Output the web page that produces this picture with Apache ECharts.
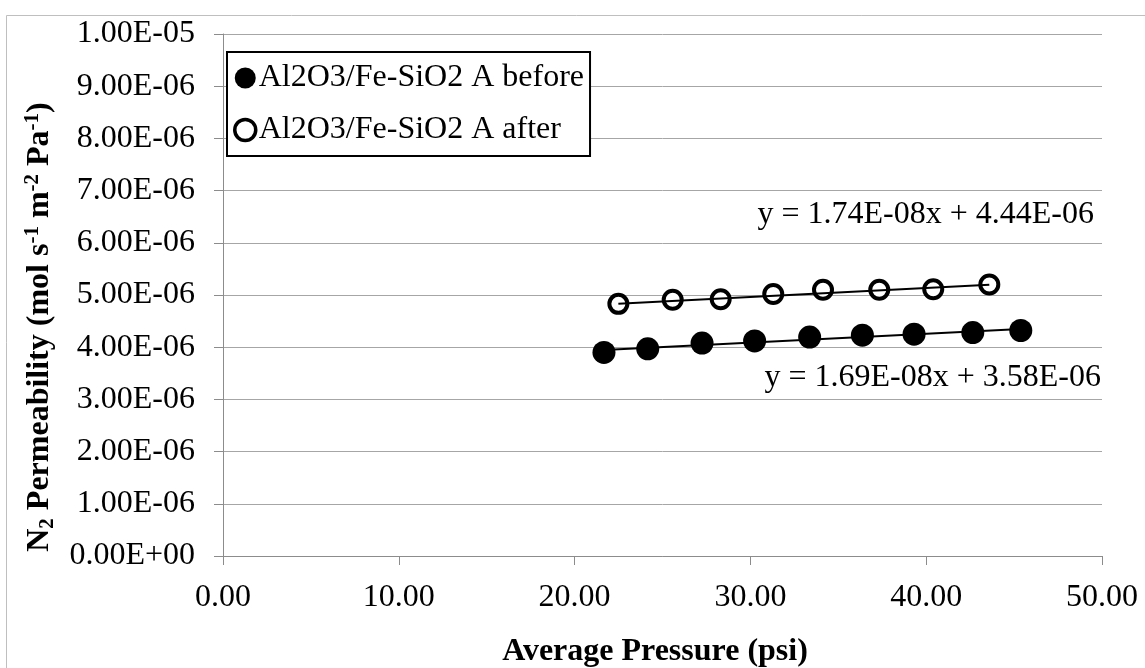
<!DOCTYPE html>
<html>
<head>
<meta charset="utf-8">
<title>N2 Permeability vs Average Pressure</title>
<script src="https://cdn.jsdelivr.net/npm/echarts@6/dist/echarts.min.js"></script>
<style>
  html, body { margin: 0; padding: 0; background: #fff; }
  #chart { width: 1145px; height: 668px; }
</style>
</head>
<body>
<div id="chart"></div>
<script>
// 数据：点
const seriesNames = ['Al2O3/Fe-SiO2 A before', 'Al2O3/Fe-SiO2 A after']
const beforeX = [21.67, 24.16, 27.25, 30.24, 33.37, 36.37, 39.31, 42.65, 45.38]
const beforeY = [3.90e-6, 3.97e-6, 4.08e-6, 4.12e-6, 4.195e-6, 4.23e-6, 4.25e-6, 4.28e-6, 4.32e-6]
const afterX = [22.49, 25.58, 28.31, 31.30, 34.13, 37.33, 40.40, 43.59]
const afterY = [4.83e-6, 4.91e-6, 4.92e-6, 5.02e-6, 5.10e-6, 5.10e-6, 5.11e-6, 5.20e-6]

// 趋势线两端（按图中方程读出）
const beforeTrendX = [21.67, 45.38]
const beforeTrendY = [3.946e-6, 4.347e-6]
const afterTrendX = [22.49, 43.59]
const afterTrendY = [4.831e-6, 5.198e-6]
const equations = ['y = 1.69E-08x + 3.58E-06', 'y = 1.74E-08x + 4.44E-06']

const xTicks = { min: 0, max: 50, interval: 10 }
const yTicks = { min: 0, max: 1e-5, interval: 1e-6 }

const FONT = '"Liberation Serif", "Times New Roman", serif'
const FS = 32
const GRID_GREY = '#a6a6a6'
const AXIS_GREY = '#8c8c8c'

const zip = (xs, ys) => xs.map((x, i) => [x, ys[i]])

// 1.00E-05 这种 Excel 风格
function sciLabel(v) {
  if (Math.abs(v) < 1e-12) return '0.00E+00'
  const [m, e] = v.toExponential(2).toUpperCase().split('E')
  const n = parseInt(e, 10)
  const sign = n < 0 ? '-' : '+'
  return `${m}E${sign}${String(Math.abs(n)).padStart(2, '0')}`
}

const filledStyle = { color: '#000', borderWidth: 0, opacity: 1 }
const openStyle = { color: '#fff', borderColor: '#000', borderWidth: 4, opacity: 1 }

const chart = echarts.init(document.getElementById('chart'), null, { renderer: 'canvas' })

const option = {
  backgroundColor: '#fff',
  animation: false,
  textStyle: { fontFamily: FONT },
  grid: { left: 223, top: 34, right: 43, bottom: 112, containLabel: false },
  legend: {
    orient: 'vertical',
    left: 227,
    top: 52,
    data: [
      { name: seriesNames[0], icon: 'circle', itemStyle: filledStyle },
      { name: seriesNames[1], icon: 'circle', itemStyle: { color: '#fff', borderColor: '#000', borderWidth: 3.5 } }
    ],
    borderColor: '#000',
    borderWidth: 2,
    backgroundColor: '#fff',
    padding: [10, 6, 10, 6],
    itemGap: 20,
    itemWidth: 21,
    itemHeight: 21,
    textStyle: { fontFamily: FONT, fontSize: FS, color: '#000', lineHeight: 32, padding: [0, 0, 0, -2] }
  },
  xAxis: {
    type: 'value',
    min: xTicks.min,
    max: xTicks.max,
    interval: xTicks.interval,
    axisLine: { show: true, lineStyle: { color: AXIS_GREY, width: 1 } },
    axisTick: { show: true, inside: false, length: 9, lineStyle: { color: AXIS_GREY } },
    axisLabel: { fontFamily: FONT, fontSize: FS, color: '#000', margin: 26, formatter: v => v.toFixed(2) },
    splitLine: { show: false }
  },
  yAxis: {
    type: 'value',
    min: yTicks.min,
    max: yTicks.max,
    interval: yTicks.interval,
    axisLine: { show: true, lineStyle: { color: AXIS_GREY, width: 1 } },
    axisTick: { show: true, inside: false, length: 9, lineStyle: { color: AXIS_GREY } },
    axisLabel: { fontFamily: FONT, fontSize: FS, color: '#000', margin: 28, formatter: sciLabel },
    splitLine: { show: true, lineStyle: { color: GRID_GREY, width: 1 } }
  },
  graphic: [
    {
      type: 'rect',
      silent: true,
      z: -10,
      shape: { x: 6.5, y: 15.5, width: 1200, height: 700 },
      style: { fill: 'none', stroke: '#bfbfbf', lineWidth: 1 }
    },
    {
      type: 'text',
      x: 40,
      y: 327,
      rotation: Math.PI / 2,
      style: {
        text: '{b|N}{sub|2}{b| Permeability (mol s}{sup|-1}{b| m}{sup|-2}{b| Pa}{sup|-1}{b|)}',
        align: 'center',
        verticalAlign: 'middle',
        rich: {
          b: { fontFamily: FONT, fontSize: FS, fontWeight: 'bold', fill: '#000', lineHeight: 36, verticalAlign: 'middle' },
          sub: { fontFamily: FONT, fontSize: 21, fontWeight: 'bold', fill: '#000', lineHeight: 36, verticalAlign: 'bottom' },
          sup: { fontFamily: FONT, fontSize: 21, fontWeight: 'bold', fill: '#000', lineHeight: 36, verticalAlign: 'top' }
        }
      }
    },
    {
      type: 'text',
      x: 655,
      y: 652,
      style: {
        text: 'Average Pressure (psi)',
        font: `bold ${FS}px ${FONT}`,
        fill: '#000',
        align: 'center',
        verticalAlign: 'middle'
      }
    },
    {
      type: 'text',
      x: 1101,
      y: 378,
      style: { text: equations[0], font: `${FS}px ${FONT}`, fill: '#000', align: 'right', verticalAlign: 'middle' }
    },
    {
      type: 'text',
      x: 1094,
      y: 215,
      style: { text: equations[1], font: `${FS}px ${FONT}`, fill: '#000', align: 'right', verticalAlign: 'middle' }
    }
  ],
  series: [
    {
      name: seriesNames[0],
      type: 'scatter',
      data: zip(beforeX, beforeY),
      symbol: 'circle',
      symbolSize: 23,
      itemStyle: filledStyle,
      emphasis: { disabled: true },
      z: 3
    },
    {
      name: seriesNames[1],
      type: 'scatter',
      data: zip(afterX, afterY),
      symbol: 'circle',
      symbolSize: 18,
      itemStyle: openStyle,
      emphasis: { disabled: true },
      z: 3
    },
    {
      name: 'trend before',
      type: 'line',
      data: zip(beforeTrendX, beforeTrendY),
      showSymbol: false,
      symbol: 'none',
      lineStyle: { color: '#000', width: 2 },
      silent: true,
      z: 5
    },
    {
      name: 'trend after',
      type: 'line',
      data: zip(afterTrendX, afterTrendY),
      showSymbol: false,
      symbol: 'none',
      lineStyle: { color: '#000', width: 2 },
      silent: true,
      z: 5
    }
  ]
}

chart.setOption(option)
</script>
</body>
</html>
